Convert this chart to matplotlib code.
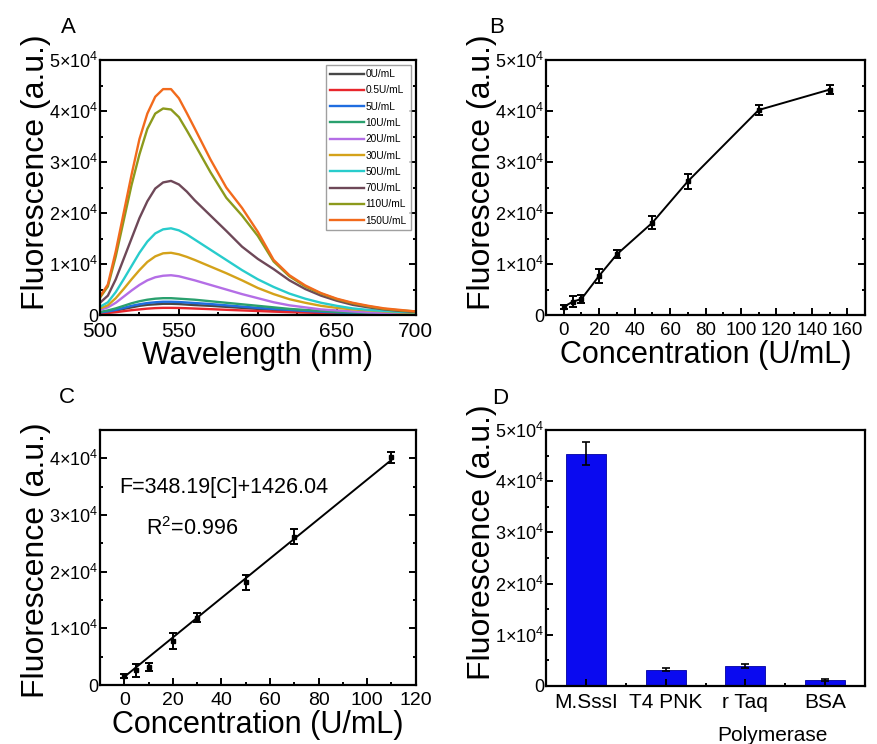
import matplotlib
matplotlib.use("Agg")
import matplotlib.pyplot as plt
from matplotlib.ticker import MultipleLocator, FuncFormatter

plt.rcParams['font.family'] = ['Liberation Sans', 'DejaVu Sans']
plt.rcParams['mathtext.fontset'] = 'custom'
plt.rcParams['mathtext.rm'] = 'Liberation Sans'
plt.rcParams['mathtext.it'] = 'Liberation Sans:italic'
plt.rcParams['mathtext.bf'] = 'Liberation Sans:bold'
plt.rcParams['axes.linewidth'] = 1.6

# --- A: emission spectra (values in 1e3 a.u.) ---
wavelength = [500, 505, 510, 515, 520, 525, 530, 535, 540, 545, 550, 555, 560,
              570, 580, 590, 600, 610, 620, 630, 640, 650, 660, 670, 680, 690, 700]
spec_0 = [0.4, 0.6, 0.85, 1.2, 1.5, 1.8, 2.0, 2.1, 2.2, 2.2, 2.15, 2.05, 1.95,
          1.8, 1.6, 1.4, 1.2, 1.0, 0.85, 0.7, 0.55, 0.45, 0.38, 0.3, 0.25, 0.2, 0.18]
spec_05 = [0.3, 0.4, 0.55, 0.75, 0.95, 1.1, 1.25, 1.35, 1.4, 1.4, 1.38, 1.33, 1.27,
           1.15, 1.02, 0.9, 0.78, 0.66, 0.56, 0.47, 0.4, 0.33, 0.28, 0.24, 0.2, 0.17, 0.15]
spec_5 = [0.5, 0.7, 1.0, 1.4, 1.8, 2.1, 2.35, 2.5, 2.6, 2.6, 2.55, 2.45, 2.35,
          2.15, 1.9, 1.65, 1.4, 1.2, 1.0, 0.8, 0.65, 0.5, 0.4, 0.35, 0.3, 0.25, 0.2]
spec_10 = [0.6, 0.9, 1.3, 1.8, 2.3, 2.7, 3.0, 3.2, 3.3, 3.3, 3.2, 3.1, 3.0,
           2.7, 2.4, 2.1, 1.8, 1.5, 1.2, 1.0, 0.8, 0.6, 0.5, 0.4, 0.35, 0.3, 0.25]
spec_20 = [1.0, 1.5, 2.4, 3.6, 4.8, 5.9, 6.8, 7.4, 7.7, 7.8, 7.6, 7.2, 6.8,
           5.9, 5.0, 4.1, 3.3, 2.5, 1.9, 1.5, 1.1, 0.9, 0.7, 0.5, 0.4, 0.35, 0.3]
spec_30 = [1.3, 1.9, 3.3, 5.1, 7.0, 8.8, 10.4, 11.5, 12.1, 12.2, 11.9, 11.4, 10.8,
           9.5, 8.2, 6.8, 5.3, 4.1, 3.1, 2.4, 1.8, 1.4, 1.1, 0.9, 0.7, 0.5, 0.4]
spec_50 = [1.6, 2.5, 4.5, 7.0, 9.6, 12.2, 14.4, 16.0, 16.8, 17.0, 16.6, 15.8, 14.8,
           12.8, 10.8, 8.8, 7.0, 5.5, 4.2, 3.2, 2.4, 1.8, 1.3, 1.0, 0.8, 0.6, 0.5]
spec_70 = [2.4, 3.8, 7.0, 11.0, 15.0, 19.0, 22.3, 24.8, 26.0, 26.3, 25.6, 24.2, 22.5,
           19.5, 16.5, 13.4, 11.0, 9.0, 6.8, 5.1, 3.8, 2.8, 2.0, 1.5, 1.1, 0.8, 0.6]
spec_110 = [3.4, 5.6, 11.5, 18.5, 25.5, 31.5, 36.5, 39.5, 40.5, 40.3, 38.8, 36.2, 33.5,
            28.0, 23.0, 19.5, 15.5, 10.5, 7.6, 5.6, 4.2, 3.1, 2.3, 1.7, 1.2, 0.9, 0.7]
spec_150 = [3.6, 6.0, 12.5, 20.0, 27.5, 34.5, 39.5, 42.8, 44.3, 44.3, 42.5, 39.6, 36.6,
            30.5, 25.0, 21.0, 16.3, 10.8, 7.8, 5.8, 4.3, 3.2, 2.4, 1.8, 1.3, 1.0, 0.7]
spectra = [spec_0, spec_05, spec_5, spec_10, spec_20, spec_30, spec_50, spec_70, spec_110, spec_150]
conc_labels = ['0U/mL', '0.5U/mL', '5U/mL', '10U/mL', '20U/mL', '30U/mL',
               '50U/mL', '70U/mL', '110U/mL', '150U/mL']
line_colors = ['#474747', '#e8262c', '#1f6de0', '#2aa06e', '#b46ee6', '#d4a21a',
               '#28cccc', '#6e4858', '#8c9a1c', '#f26a1c']

# --- B / C: calibration ---
conc = [0, 5, 10, 20, 30, 50, 70, 110, 150]
fluo = [1600, 2600, 3150, 7700, 11900, 18100, 26200, 40200, 44200]
fluo_err = [400, 1100, 700, 1400, 800, 1300, 1400, 1000, 900]
slope, intercept = 348.19, 1426.04

# --- D: selectivity ---
enzymes = ['M.SssI', 'T4 PNK', 'r Taq', 'BSA']
enz_vals = [45400, 3200, 3900, 1200]
enz_err = [2200, 250, 400, 200]


def sci(v, pos):
    if v == 0:
        return '0'
    return r'$\mathregular{%d{\times}10^4}$' % round(v / 1e4)


def style(ax, xsize):
    ax.tick_params(which='both', direction='in', right=True, width=1.4)
    ax.tick_params(which='major', length=5)
    ax.tick_params(which='minor', length=2.5)
    ax.tick_params(axis='x', labelsize=xsize, pad=5)
    ax.tick_params(axis='y', labelsize=13, pad=1)
    ax.yaxis.set_major_locator(MultipleLocator(1e4))
    ax.yaxis.set_minor_locator(MultipleLocator(5e3))
    ax.yaxis.set_major_formatter(FuncFormatter(sci))
    ax.set_ylabel('Fluorescence (a.u.)', fontsize=23)


fig = plt.figure(figsize=(8.77, 7.44), dpi=100)
axA = fig.add_axes([0.114, 0.5766, 0.360, 0.3427])
axB = fig.add_axes([0.6226, 0.5766, 0.3637, 0.3427])
axC = fig.add_axes([0.114, 0.0793, 0.360, 0.3427])
axD = fig.add_axes([0.6226, 0.078, 0.3637, 0.344])

# A
for s, lab, col in zip(spectra, conc_labels, line_colors):
    axA.plot(wavelength, [v * 1e3 for v in s], color=col, lw=1.7, label=lab)
axA.set_xlim(500, 700)
axA.set_ylim(0, 5e4)
axA.xaxis.set_major_locator(MultipleLocator(50))
axA.xaxis.set_minor_locator(MultipleLocator(25))
style(axA, 15)
axA.set_xlabel('Wavelength (nm)', fontsize=22, labelpad=0)
axA.legend(loc='upper right', fontsize=7.3, handlelength=3.4, handletextpad=0.1,
           labelspacing=0.62, frameon=True, fancybox=False, edgecolor='#888888',
           borderaxespad=0.5, borderpad=0.4)

# B
axB.errorbar(conc, fluo, yerr=fluo_err, color='black', marker='s', ms=3.5,
             lw=1.4, elinewidth=1.4, capsize=3, capthick=1.4)
axB.set_xlim(-10, 170)
axB.set_ylim(0, 5e4)
axB.xaxis.set_major_locator(MultipleLocator(20))
axB.xaxis.set_minor_locator(MultipleLocator(10))
style(axB, 13.5)
axB.set_xlabel('Concentration (U/mL)', fontsize=22, labelpad=1)

# C
axC.errorbar(conc[:-1], fluo[:-1], yerr=fluo_err[:-1], color='black', marker='s',
             ms=3.5, lw=0, elinewidth=1.4, capsize=3, capthick=1.4)
axC.plot([0, 110], [intercept, slope * 110 + intercept], color='black', lw=1.4)
axC.set_xlim(-10, 120)
axC.set_ylim(0, 4.5e4)
axC.xaxis.set_major_locator(MultipleLocator(20))
axC.xaxis.set_minor_locator(MultipleLocator(10))
style(axC, 14)
axC.set_xlabel('Concentration (U/mL)', fontsize=22, labelpad=1)
axC.text(-2, 34900, 'F=348.19[C]+1426.04', fontsize=15.5, va='center', ha='left')
axC.text(9, 27700, r'R$^2$=0.996', fontsize=15.5, va='center', ha='left')

# D
xpos = [1, 2, 3, 4]
axD.bar(xpos, enz_vals, width=0.5, color='#0a0af0', edgecolor='#0000a0', lw=0.6,
        yerr=enz_err, error_kw=dict(ecolor='black', elinewidth=1.2, capsize=3, capthick=1.2))
axD.set_xlim(0.5, 4.5)
axD.set_ylim(0, 5e4)
axD.set_xticks(xpos)
axD.set_xticklabels(enzymes)
axD.xaxis.set_minor_locator(MultipleLocator(0.5))
style(axD, 15)
axD.tick_params(axis='both', which='both', right=False)
axD.text(2.65, -0.155, 'Polymerase', transform=axD.get_xaxis_transform(),
         fontsize=15, ha='left', va='top')

for lab, x, y in [('A', 0.078, 0.963), ('B', 0.566, 0.963),
                  ('C', 0.076, 0.466), ('D', 0.570, 0.464)]:
    fig.text(x, y, lab, fontsize=16, ha='center', va='center')

for ax, ly in [(axA, 0.56), (axB, 0.56), (axC, 0.49), (axD, 0.56)]:
    ax.yaxis.set_label_coords(-0.155, ly)

fig.savefig('out.png', dpi=100)
